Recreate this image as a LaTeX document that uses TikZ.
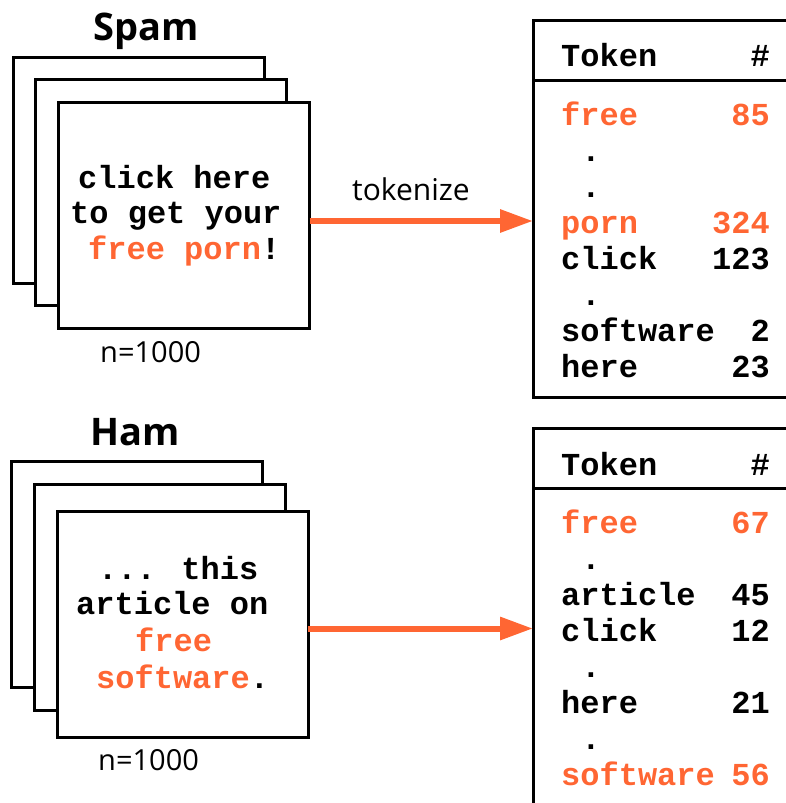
\documentclass[tikz,border=0pt]{standalone}
\usepackage{fontspec}
\setmainfont{Open Sans}
\newfontfamily\codefont{Liberation Mono}
\usetikzlibrary{arrows.meta,calc}
\definecolor{hot}{RGB}{255,102,51}

\begin{document}
\begin{tikzpicture}[x=1pt,y=-1pt,
  doc/.style={draw, line width=3pt, fill=white, minimum width=251pt,
    minimum height=226pt, inner sep=0pt, outer sep=0pt},
  tab/.style={draw, line width=3pt, inner sep=0pt, outer sep=0pt},
  code/.style={font=\codefont\bfseries\fontsize{32}{36}\selectfont,
    inner sep=0pt, anchor=base west},
  num/.style={code, anchor=base east},
  dot/.style={code, anchor=base},
  title/.style={font=\bfseries\fontsize{38}{44}\selectfont, inner sep=0pt,
    anchor=base west},
  caption/.style={font=\fontsize{29}{33}\selectfont, inner sep=0pt,
    anchor=base west},
  flow/.style={draw=hot, line width=6pt,
    -{Triangle[length=33pt,width=22pt]}}]

\clip (0,0) rectangle (786,803);

% ---------- spam ----------
\node[title] (spamtitle) at (93,40) {Spam};
\node[doc] (spamC) at (138.5,170) {};
\node[doc] (spamB) at (161,192) {};
\node[doc] (spamA) at (184,215.5) {};
\node[code] (s1) at (78,188) {click here};
\node[code] (s2) at (70,223) {to get your};
\node[code] (s3) at (88,259) {\textcolor{hot}{free porn}!};
\node[caption] (spamn) at (100,362) {n=1000};

\node[tab, minimum width=287pt, minimum height=377pt] (spamtab) at (676.5,208.5) {};
\draw[line width=3pt] ($(spamtab.north west)+(0,60)$) -- ($(spamtab.north east)+(0,60)$);

\coordinate (sOut) at ([yshift=-5.5pt]spamA.east);
\draw[flow] (sOut) -- (sOut -| spamtab.west);
\node[caption, font=\fontsize{30}{34}\selectfont] (tok) at (352,200) {tokenize};

\node[code] (sh1) at (561,66) {Token};
\node[num] (sh2) at (770,66) {\#};
\node[code, text=hot] (sr1) at (561,125) {free};
\node[num, text=hot] (sn1) at (770,125) {85};
\node[dot] (sd1) at (591,161) {.};
\node[dot] (sd2) at (591,197) {.};
\node[code, text=hot] (sr2) at (561,233) {porn};
\node[num, text=hot] (sn2) at (770,233) {324};
\node[code] (sr3) at (561,269) {click};
\node[num] (sn3) at (770,269) {123};
\node[dot] (sd3) at (591,305) {.};
\node[code] (sr4) at (561,341) {software};
\node[num] (sn4) at (770,341) {2};
\node[code] (sr5) at (561,377) {here};
\node[num] (sn5) at (770,377) {23};

% ---------- ham ----------
\node[title] (hamtitle) at (90,445) {Ham};
\node[doc] (hamC) at (136.5,574.5) {};
\node[doc] (hamB) at (159.5,597.5) {};
\node[doc] (hamA) at (182.5,624) {};
\node[code] (h1) at (98,579) {... this};
\node[code] (h2) at (76,614) {article on};
\node[code, text=hot] (h3) at (135,651) {free};
\node[code] (h4) at (96,688) {\textcolor{hot}{software}.};
\node[caption] (hamn) at (98,770) {n=1000};

\node[tab, minimum width=287pt, minimum height=420pt] (hamtab) at (676.5,638) {};
\draw[line width=3pt] ($(hamtab.north west)+(0,60)$) -- ($(hamtab.north east)+(0,60)$);

\coordinate (hOut) at ([yshift=-4.5pt]hamA.east);
\draw[flow] (hOut) -- (hOut -| hamtab.west);

\node[code] (hh1) at (561,475) {Token};
\node[num] (hh2) at (770,475) {\#};
\node[code, text=hot] (hr1) at (561,533) {free};
\node[num, text=hot] (hn1) at (770,533) {67};
\node[dot] (hd1) at (591,569) {.};
\node[code] (hr2) at (561,605) {article};
\node[num] (hn2) at (770,605) {45};
\node[code] (hr3) at (561,641) {click};
\node[num] (hn3) at (770,641) {12};
\node[dot] (hd2) at (591,677) {.};
\node[code] (hr4) at (561,713) {here};
\node[num] (hn4) at (770,713) {21};
\node[dot] (hd3) at (591,749) {.};
\node[code, text=hot] (hr5) at (561,785) {software};
\node[num, text=hot] (hn5) at (770,785) {56};
\end{tikzpicture}
\end{document}
